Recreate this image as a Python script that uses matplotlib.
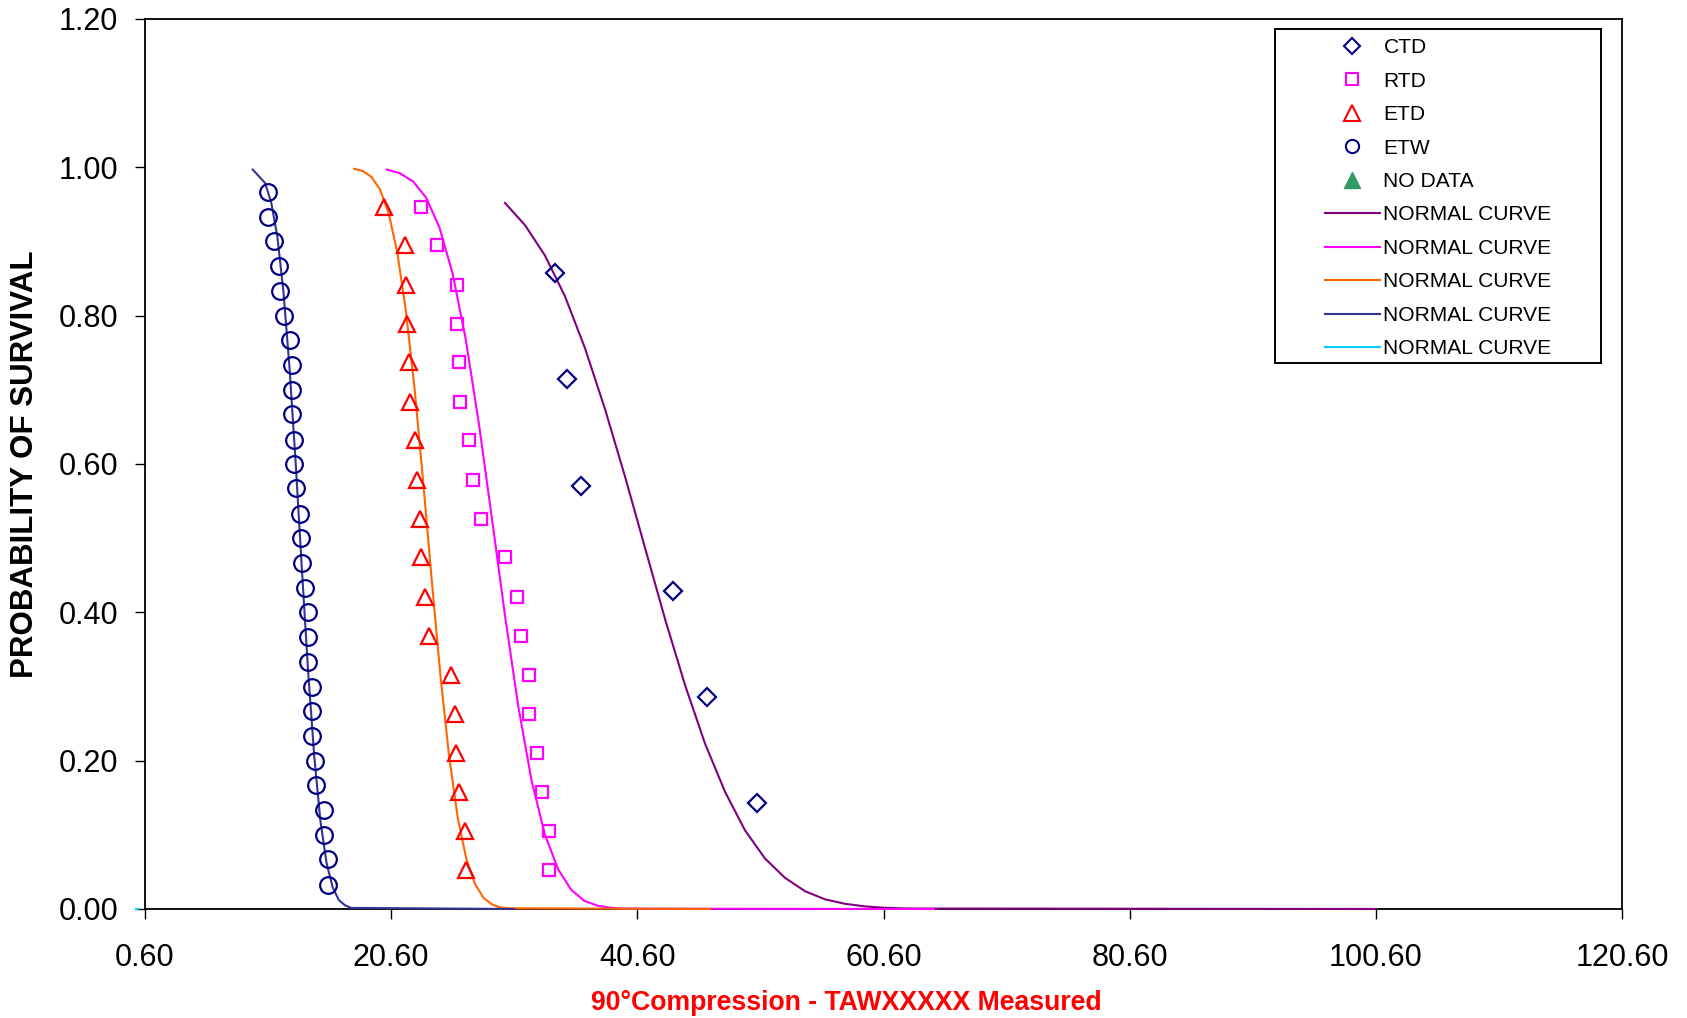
import matplotlib
matplotlib.use('Agg')
from matplotlib import pyplot as plt
from matplotlib.lines import Line2D
from matplotlib.patches import Rectangle

plt.rcParams['font.family'] = ['Liberation Sans', 'DejaVu Sans']

# test points (value, probability of survival)
# ====
ctd_x = [33.91, 34.89, 36.05, 43.50, 46.26, 50.30]
ctd_p = [0.857, 0.714, 0.571, 0.429, 0.286, 0.143]

rtd_x = [23.00, 24.30, 25.93, 25.93, 26.09, 26.17, 26.90, 27.22, 27.87,
         29.83, 30.80, 31.13, 31.78, 31.78, 32.43, 32.88, 33.40, 33.40]
rtd_p = [0.947, 0.895, 0.842, 0.789, 0.737, 0.684, 0.632, 0.579, 0.526,
         0.474, 0.421, 0.368, 0.316, 0.263, 0.211, 0.158, 0.105, 0.053]

etd_x = [20.02, 21.70, 21.78, 21.86, 22.03, 22.13, 22.56, 22.70, 22.94,
         23.00, 23.33, 23.65, 25.44, 25.79, 25.84, 26.14, 26.60, 26.68]
etd_p = [0.947, 0.895, 0.842, 0.789, 0.737, 0.684, 0.632, 0.579, 0.526,
         0.474, 0.421, 0.368, 0.316, 0.263, 0.211, 0.158, 0.105, 0.053]

etw_x = [10.57, 10.57, 11.06, 11.49, 11.57, 11.87, 12.38, 12.54, 12.54, 12.54,
         12.68, 12.68, 12.87, 13.19, 13.25, 13.33, 13.58, 13.82, 13.82, 13.82,
         14.14, 14.14, 14.14, 14.39, 14.47, 15.12, 15.12, 15.44, 15.47]
etw_p = [0.967, 0.933, 0.900, 0.867, 0.833, 0.800, 0.767, 0.733, 0.700, 0.667,
         0.633, 0.600, 0.567, 0.533, 0.500, 0.467, 0.433, 0.400, 0.367, 0.333,
         0.300, 0.267, 0.233, 0.200, 0.167, 0.133, 0.100, 0.067, 0.033]

# normal curves
# ====
ctd_curve_x = [29.85, 31.475, 33.10, 34.725, 36.35, 37.975, 39.60, 41.225, 42.85,
               44.475, 46.10, 47.725, 49.35, 50.975, 52.60, 54.225, 55.85, 57.475,
               59.10, 60.725, 62.35, 100.6]
ctd_curve_y = [0.952, 0.922, 0.881, 0.826, 0.756, 0.674, 0.583, 0.487, 0.391,
               0.302, 0.223, 0.158, 0.106, 0.068, 0.042, 0.024, 0.013, 0.007,
               0.0035, 0.0016, 0.0007, 0.0]

rtd_curve_x = [20.24, 21.31, 22.38, 23.45, 24.52, 25.59, 26.66, 27.73, 28.80, 29.87,
               30.94, 32.01, 33.08, 34.15, 35.22, 36.29, 37.36, 38.43, 39.50, 64.7]
rtd_curve_y = [0.997, 0.992, 0.981, 0.959, 0.919, 0.857, 0.768, 0.654, 0.525, 0.393,
               0.272, 0.173, 0.101, 0.054, 0.026, 0.011, 0.0045, 0.0016, 0.0005, 0.0]

etd_curve_x = [17.6, 18.3, 19.0, 19.7, 20.4, 21.1, 21.8, 22.5, 23.2, 23.9,
               24.6, 25.3, 26.0, 26.7, 27.4, 28.1, 28.8, 29.5, 30.2, 46.5]
etd_curve_y = [0.998, 0.995, 0.987, 0.970, 0.938, 0.885, 0.806, 0.702, 0.576, 0.443,
               0.315, 0.207, 0.124, 0.068, 0.034, 0.015, 0.006, 0.002, 0.001, 0.0]

etw_curve_x = [9.35, 10.35, 10.85, 11.35, 11.85, 12.35, 12.85, 13.35, 13.85, 14.35,
               14.85, 15.35, 15.85, 16.35, 16.85, 17.35, 30.6]
etw_curve_y = [0.997, 0.979, 0.953, 0.907, 0.832, 0.728, 0.599, 0.457, 0.321, 0.206,
               0.119, 0.062, 0.029, 0.012, 0.005, 0.0015, 0.0]

nodata_curve_x = [-0.15, 0.05]
nodata_curve_y = [0.0, 0.0]

x_ticks = [0.6, 20.6, 40.6, 60.6, 80.6, 100.6, 120.6]
y_ticks = [0.0, 0.2, 0.4, 0.6, 0.8, 1.0, 1.2]

navy = '#000080'
magenta = '#FF00FF'
red = '#FF0000'
purple = '#800080'
orange = '#FF6600'
blue = '#333399'
cyan = '#00CCFF'
green = '#339966'

# plotting
# =====
fig = plt.figure(figsize=(16.87, 10.18), dpi=100)
ax = fig.add_axes([145 / 1687, 1 - 909 / 1018, 1477 / 1687, 890 / 1018])

lw = 1.5
ax.plot(ctd_curve_x, ctd_curve_y, '-', color=purple, lw=lw, zorder=3, clip_on=False)
ax.plot(rtd_curve_x, rtd_curve_y, '-', color=magenta, lw=lw, zorder=3, clip_on=False)
ax.plot(etd_curve_x, etd_curve_y, '-', color=orange, lw=lw, zorder=3, clip_on=False)
ax.plot(etw_curve_x, etw_curve_y, '-', color=blue, lw=lw, zorder=3, clip_on=False)
ax.plot(nodata_curve_x, nodata_curve_y, '-', color=cyan, lw=lw, zorder=3, clip_on=False)

ax.plot(ctd_x, ctd_p, 'D', ms=9, mfc='none', mec=navy, mew=1.6, zorder=4)
ax.plot(rtd_x, rtd_p, 's', ms=8.3, mfc='none', mec=magenta, mew=1.6, zorder=4)
ax.plot(etd_x, etd_p, '^', ms=11.5, mfc='none', mec=red, mew=1.6, zorder=4)
ax.plot(etw_x, etw_p, 'o', ms=12, mfc='none', mec=navy, mew=1.6, zorder=4)

ax.set_xlim(0.6, 120.6)
ax.set_ylim(0, 1.2)
ax.set_xticks(x_ticks)
ax.set_xticklabels(['%.2f' % v for v in x_ticks])
ax.set_yticks(y_ticks)
ax.set_yticklabels(['%.2f' % v for v in y_ticks])
ax.tick_params(axis='both', direction='out', length=7.2, width=1.0,
               labelsize=22, color='black')
ax.tick_params(axis='x', pad=17.3)
ax.tick_params(axis='y', pad=12)
for s in ax.spines.values():
    s.set_linewidth(1.3)
    s.set_color('black')

ax.set_ylabel('PROBABILITY OF SURVIVAL', fontsize=22.5, fontweight='bold', va='center')
ax.yaxis.set_label_coords(-0.0812, 0.5)
ax.set_xlabel('90°Compression - TAWXXXXX Measured', fontsize=19.2,
              fontweight='bold', color=red, va='center')
ax.xaxis.set_label_coords(0.4746, -0.1055)

# legend
handles = [
    Line2D([], [], ls='none', marker='D', ms=7.8, mfc='none', mec=navy, mew=1.5),
    Line2D([], [], ls='none', marker='s', ms=8.5, mfc='none', mec=magenta, mew=1.5),
    Line2D([], [], ls='none', marker='^', ms=11, mfc='none', mec=red, mew=1.5),
    Line2D([], [], ls='none', marker='o', ms=9.5, mfc='none', mec=navy, mew=1.5),
    Line2D([], [], ls='none', marker='^', ms=11, mfc=green, mec=green, mew=1.0),
    Line2D([], [], color=purple, lw=lw),
    Line2D([], [], color=magenta, lw=lw),
    Line2D([], [], color=orange, lw=lw),
    Line2D([], [], color=blue, lw=lw),
    Line2D([], [], color=cyan, lw=lw),
]
labels = ['CTD', 'RTD', 'ETD', 'ETW', 'NO DATA'] + ['NORMAL CURVE'] * 5
ax.legend(handles, labels, loc='upper left', bbox_to_anchor=(0.7989, 0.9785),
          frameon=False, borderpad=0, borderaxespad=0, fontsize=15.1,
          handlelength=2.62, handletextpad=0.17, labelspacing=0.69)
ax.add_patch(Rectangle((0.7651, 0.6139), 0.2207, 0.3748, transform=ax.transAxes,
                       fill=False, ec='black', lw=1.4, zorder=5))

plt.savefig('out.png', dpi=100)
